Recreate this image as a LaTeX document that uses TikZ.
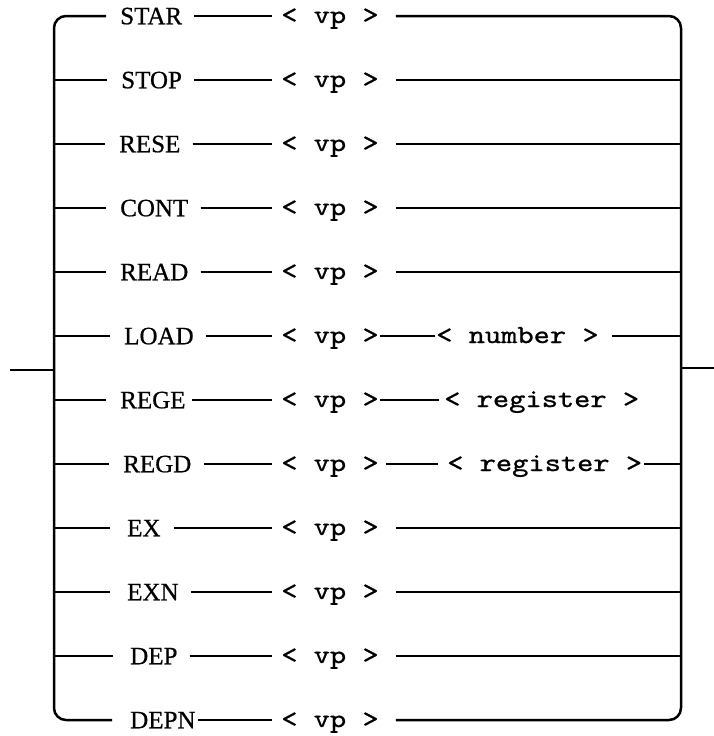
\documentclass[tikz,border=0pt]{standalone}
\usepackage{fontspec}
\newfontfamily\kwfont[FakeBold=0.6]{Liberation Serif}
\newfontfamily\twfont[FakeBold=0.9,FakeStretch=1.19]{lmmono10-regular.otf}
\begin{document}
\begin{tikzpicture}[x=1pt,y=-1pt,
  line width=2.5pt,
  kw/.style={anchor=west, inner sep=0pt, text height=16.5pt, text depth=0pt,
    font=\kwfont\fontsize{25}{29}\selectfont},
  mono/.style={anchor=west, inner sep=0pt, text height=14pt, text depth=0pt,
    font=\twfont\fontsize{26}{30}\selectfont}]
\useasboundingbox (0,0) rectangle (714,736);
% keywords
\node[kw] (k1)  at (119,16)  {STAR};
\node[kw] (k2)  at (120,80)  {STOP};
\node[kw] (k3)  at (118,144) {RESE};
\node[kw] (k4)  at (119,208) {CONT};
\node[kw] (k5)  at (119,272) {READ};
\node[kw] (k6)  at (123,336) {LOAD};
\node[kw] (k7)  at (119,400) {REGE};
\node[kw] (k8)  at (122,464) {REGD};
\node[kw] (k9)  at (126,528) {EX};
\node[kw] (k10) at (126,592) {EXN};
\node[kw] (k11) at (129,656) {DEP};
\node[kw] (k12) at (129,720) {DEPN};
% < vp >
\foreach \i/\y in {1/16,2/80,3/144,4/208,5/272,6/336,7/400,8/464,9/528,10/592,11/656,12/720}
  \node[mono] (v\i) at (280,\y) {< vp >};
\node[mono] (n6) at (435,336) {< number >};
\node[mono] (r7) at (443,400) {< register >};
\node[mono] (r8) at (446,464) {< register >};
% frame coordinates
\coordinate (TL) at (54,16);
\coordinate (BL) at (54,720);
\coordinate (TR) at (681,16);
\coordinate (BR) at (681,720);
\coordinate (in) at (10,370);
\coordinate (out) at (714,368);
% left frame and branches
\draw[rounded corners=12pt] ([xshift=-13pt]k1.west) -- (TL) -- (BL) -- ([xshift=-17pt]k12.west);
\foreach \i in {2,...,8}
  \draw ([xshift=-13pt]k\i.west) -- (k\i.west -| TL);
\foreach \i in {9,10,11}
  \draw ([xshift=-16pt]k\i.west) -- (k\i.west -| TL);
\draw (in) -- (in -| TL);
% right frame and branches
\draw[rounded corners=12pt] ([xshift=16pt]v1.east) -- (TR) -- (BR) -- ([xshift=16pt]v12.east);
\foreach \i in {2,3,4,5,9,10,11}
  \draw ([xshift=16pt]v\i.east) -- (v\i.east -| TR);
\draw (out -| TR) -- (out);
% keyword to vp
\foreach \i in {1,...,6,8,11}
  \draw ([xshift=11pt]k\i.east) -- ([xshift=-8pt]v\i.west);
\draw ([xshift=5pt]k7.east) -- ([xshift=-8pt]v7.west);
\draw ([xshift=12pt]k9.east) -- ([xshift=-8pt]v9.west);
\draw ([xshift=11pt]k10.east) -- ([xshift=-8pt]v10.west);
\draw ([xshift=1pt]k12.east) -- ([xshift=-8pt]v12.west);
% extra parts
\draw (v6.east) -- (n6.west);
\draw ([xshift=12pt]n6.east) -- (n6.east -| TR);
\draw (v7.east) -- ([xshift=-4pt]r7.west);
\draw ([xshift=6pt]v8.east) -- ([xshift=-8pt]r8.west);
\draw ([xshift=1pt]r8.east) -- (r8.east -| TR);
\end{tikzpicture}
\end{document}
